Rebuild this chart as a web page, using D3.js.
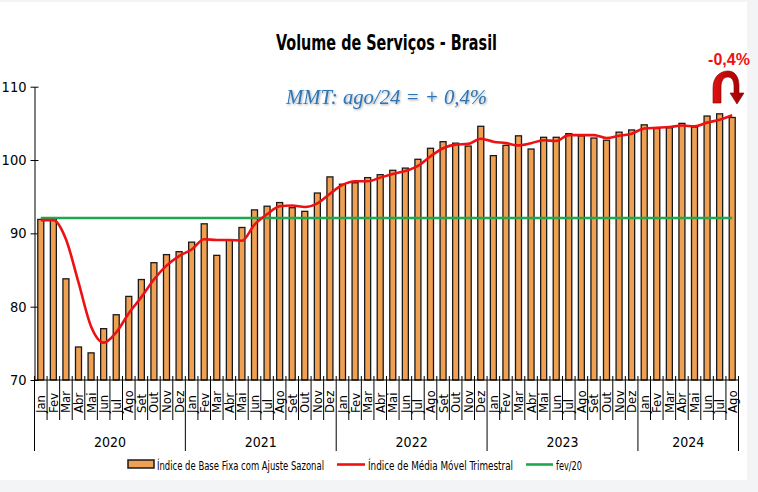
<!DOCTYPE html>
<html><head><meta charset="utf-8">
<script src="https://cdn.jsdelivr.net/npm/d3@7"></script>
<style>
html,body{margin:0;padding:0;background:#F3F4F6;}
svg{display:block;}
</style></head>
<body>
<svg id="c" width="758" height="492"></svg>
<script>
// ---- data ----
const monthNames = ["Jan","Fev","Mar","Abr","Mai","Jun","Jul","Ago","Set","Out","Nov","Dez"];
const years = ["2020","2021","2022","2023","2024"];
const monthsInLastYear = 8;
const indexValues = [
  91.9, 92.0, 83.8, 74.5, 73.7, 77.0, 78.9, 81.4, 83.7, 86.0, 87.1, 87.5,
  88.8, 91.3, 87.0, 89.1, 90.8, 93.2, 93.7, 94.2, 93.5, 93.0, 95.5, 97.7,
  96.7, 96.9, 97.6, 98.0, 98.6, 98.9, 100.1, 101.6, 102.5, 102.3, 101.9, 104.6,
  100.6, 102.0, 103.3, 101.5, 103.1, 103.1, 103.6, 103.3, 103.0, 102.7, 103.8, 104.1,
  104.8, 104.3, 104.4, 105.0, 104.5, 106.0, 106.3, 105.8
];
const mmtValues = [
  91.8, 91.8, 89.2, 83.3, 77.3, 75.1, 76.5, 79.1, 81.3, 83.7, 85.6, 86.9,
  87.8, 89.2, 89.1, 89.1, 89.0, 91.2, 92.6, 93.7, 93.8, 93.6, 94.1, 95.4,
  96.6, 97.1, 97.1, 97.6, 98.1, 98.5, 99.2, 100.5, 101.6, 102.1, 102.2, 102.9,
  102.5, 102.3, 102.0, 102.3, 102.7, 102.6, 103.4, 103.4, 103.4, 103.0, 103.3, 103.6,
  104.3, 104.4, 104.5, 104.7, 104.6, 105.1, 105.5, 106.1
];
const fev20Level = 92.1;
const yTicks = [70, 80, 90, 100, 110];
const titleText = "Volume de Serviços - Brasil";
const mmtText = "MMT: ago/24 = + 0,4%";
const changeText = "-0,4%";
const legendLabels = ["Índice de Base Fixa com Ajuste Sazonal","Índice de Média Móvel Trimestral","fev/20"];

// categories
const categories = [];
years.forEach((y, yi) => {
  const n = yi === years.length - 1 ? monthsInLastYear : 12;
  for (let m = 0; m < n; m++) categories.push({key: y + "-" + m, month: monthNames[m], year: y});
});
const data = categories.map((c, i) => ({...c, idx: indexValues[i], mmt: mmtValues[i]}));

// ---- drawing ----
const svg = d3.select("#c");
const FONT = "'Liberation Sans Narrow','DejaVu Sans Condensed','Open Sans',sans-serif";
svg.append("rect").attr("x",0).attr("y",2).attr("width",747).attr("height",478).attr("fill","#fff");

const x = d3.scaleBand().domain(categories.map(c => c.key)).range([34.5, 738.5]).padding(0);
const y = d3.scaleLinear().domain([70, 110]).range([380, 86.7]);
const bw = x.bandwidth();

// y axis
const yAxis = svg.append("g").attr("transform","translate(34.5,0)")
  .call(d3.axisLeft(y).tickValues(yTicks).tickSize(4).tickSizeOuter(0).tickPadding(5));
yAxis.select(".domain").attr("stroke","#000").attr("stroke-width",1);
yAxis.selectAll(".tick line").attr("x1",-4).attr("x2",4).attr("stroke","#000");
yAxis.selectAll(".tick text").attr("font-family",FONT).attr("font-size",14.5).attr("fill","#000").attr("x",-8);

// bars
svg.append("g").selectAll("rect").data(data).join("rect")
  .attr("x", d => x(d.key) + bw/2 - 3)
  .attr("width", 6)
  .attr("y", d => y(d.idx))
  .attr("height", d => y(70) - y(d.idx))
  .attr("fill","#F0A052").attr("stroke","#1a1a1a").attr("stroke-width",1.3);

// x axis line
svg.append("line").attr("x1",34.5).attr("x2",738.5).attr("y1",y(70)).attr("y2",y(70)).attr("stroke","#000").attr("stroke-width",1.2);

// month separators
const boundaries = d3.range(categories.length + 1);
svg.append("g").selectAll("line").data(boundaries).join("line")
  .attr("x1", i => i < categories.length ? x(categories[i].key) : x.range()[1])
  .attr("x2", i => i < categories.length ? x(categories[i].key) : x.range()[1])
  .attr("y1", 376)
  .attr("y2", i => (i % 12 === 0 || i === categories.length) ? 451 : 420)
  .attr("stroke","#000").attr("stroke-width",1);

// month labels
svg.append("g").selectAll("text").data(data).join("text")
  .attr("transform", d => `translate(${x(d.key) + bw/2 + 4.5},413) rotate(-90)`)
  .attr("text-anchor","start")
  .attr("font-family",FONT).attr("font-size",13).attr("fill","#000")
  .text(d => d.month);

// year labels
const yearGroups = d3.groups(data, d => d.year);
svg.append("g").selectAll("text").data(yearGroups).join("text")
  .attr("x", g => (x(g[1][0].key) + x(g[1][g[1].length-1].key) + bw) / 2)
  .attr("y", 447)
  .attr("text-anchor","middle")
  .attr("font-family",FONT).attr("font-size",14).attr("fill","#000")
  .text(g => g[0]);

// green reference line
svg.append("line")
  .attr("x1", x(categories[0].key) + bw/2).attr("x2", x(categories[categories.length-1].key) + bw/2)
  .attr("y1", y(fev20Level)).attr("y2", y(fev20Level))
  .attr("stroke","#1EA84E").attr("stroke-width",2.6);

// red MMT line
const line = d3.line().x(d => x(d.key) + bw/2).y(d => y(d.mmt)).curve(d3.curveMonotoneX);
svg.append("path").datum(data).attr("d", line)
  .attr("fill","none").attr("stroke","#EE1111").attr("stroke-width",2.6).attr("stroke-linejoin","round");

// title
svg.append("text").attr("x",386.5).attr("y",50).attr("text-anchor","middle")
  .attr("font-family",FONT).attr("font-weight","bold").attr("font-size",21).attr("fill","#000")
  .attr("textLength",221).attr("lengthAdjust","spacingAndGlyphs")
  .text(titleText);

// MMT annotation with shadow
const defs = svg.append("defs");
const f = defs.append("filter").attr("id","sh").attr("x","-10%").attr("y","-30%").attr("width","120%").attr("height","160%");
f.append("feDropShadow").attr("dx",1).attr("dy",1).attr("stdDeviation",0.8).attr("flood-color","#000").attr("flood-opacity",0.35);
svg.append("text").attr("x",386.5).attr("y",104).attr("text-anchor","middle")
  .attr("font-family","'Liberation Serif','DejaVu Serif',serif").attr("font-style","italic").attr("font-size",21).attr("fill","#2E74B5")
  .attr("textLength",201).attr("lengthAdjust","spacingAndGlyphs")
  .attr("filter","url(#sh)")
  .text(mmtText);

// change label
svg.append("text").attr("x",729).attr("y",65).attr("text-anchor","middle")
  .attr("font-family","'Liberation Sans','Arial',sans-serif").attr("font-weight","bold").attr("font-size",16).attr("fill","#EE1111")
  .text(changeText);

// curved arrow
const grad = defs.append("linearGradient").attr("id","ag").attr("x1","0").attr("y1","0").attr("x2","1").attr("y2","0");
grad.append("stop").attr("offset","0%").attr("stop-color","#E01010");
grad.append("stop").attr("offset","100%").attr("stop-color","#A00000");
svg.append("path")
  .attr("d","M713,103 L713,88 C713,76 721,71 728,71 C735,71 739,77 739,86 L739,93 L744,93 L737,104 L730,93 L734,93 L734,86 C734,80 731,77 728,77 C724,77 721,80 721,88 L721,103 Z")
  .attr("fill","url(#ag)").attr("stroke","#800000").attr("stroke-width",0.6);

// legend
const lg = svg.append("g");
lg.append("rect").attr("x",128).attr("y",460).attr("width",26).attr("height",8)
  .attr("fill","#F0A052").attr("stroke","#1a1a1a").attr("stroke-width",1.5);
lg.append("line").attr("x1",337).attr("x2",365).attr("y1",464.5).attr("y2",464.5).attr("stroke","#EE1111").attr("stroke-width",2.6);
lg.append("line").attr("x1",526).attr("x2",553).attr("y1",464.5).attr("y2",464.5).attr("stroke","#1EA84E").attr("stroke-width",2.6);
const legPos = [[157,167],[368,145],[556,26]];
lg.selectAll("text").data(legendLabels).join("text")
  .attr("x",(d,i)=>legPos[i][0]).attr("y",469.5)
  .attr("font-family",FONT).attr("font-size",12).attr("fill","#000")
  .attr("textLength",(d,i)=>legPos[i][1]).attr("lengthAdjust","spacingAndGlyphs")
  .text(d => d);
</script>
</body></html>
